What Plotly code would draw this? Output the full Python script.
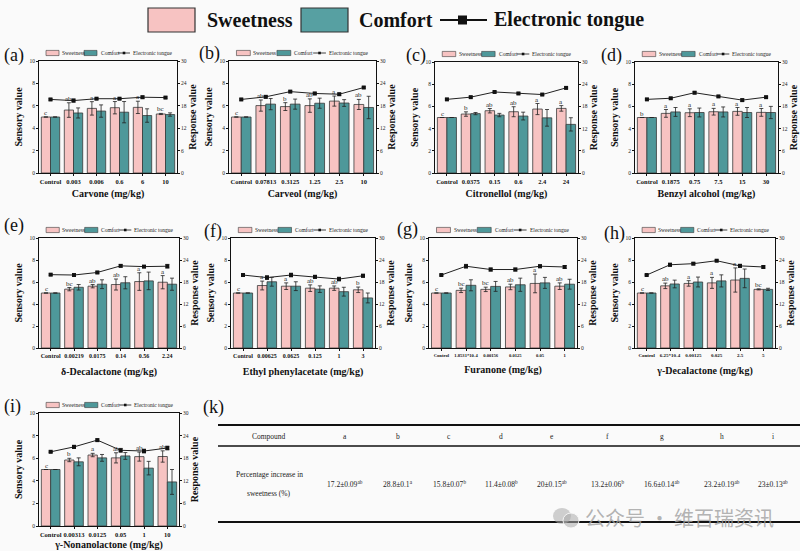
import plotly.graph_objects as go

W, H = 800, 551
SERIF = "Liberation Serif, Times New Roman, serif"

# ---------------- data ----------------
panel_ids = ["a", "b", "c", "d", "e", "f", "g", "h", "i"]
x_titles = ["Carvone (mg/kg)", "Carveol (mg/kg)", "Citronellol (mg/kg)", "Benzyl alcohol (mg/kg)",
            "δ-Decalactone (mg/kg)", "Ethyl phenylacetate (mg/kg)", "Furanone (mg/kg)",
            "γ-Decalactone (mg/kg)", "γ-Nonanolactone (mg/kg)"]
x_labels = [
    ["Control", "0.003", "0.006", "0.6", "6", "10"],
    ["Control", "0.07813", "0.3125", "1.25", "2.5", "10"],
    ["Control", "0.0375", "0.15", "0.6", "2.4", "24"],
    ["Control", "0.1875", "0.75", "7.5", "15", "30"],
    ["Control", "0.00219", "0.0175", "0.14", "0.56", "2.24"],
    ["Control", "0.00625", "0.0625", "0.125", "1", "3"],
    ["Control", "1.8531*10-4", "0.00156", "0.0125", "0.05", "1"],
    ["Control", "6.25*10-4", "0.00125", "0.025", "2.5", "5"],
    ["Control", "0.00313", "0.0125", "0.05", "1", "10"],
]
sweet = [
    [5.0, 5.62, 5.77, 5.83, 5.86, 5.27],
    [5.0, 6.02, 5.93, 6.02, 6.42, 6.12],
    [5.0, 5.31, 5.61, 5.52, 5.76, 5.82],
    [5.0, 5.37, 5.43, 5.52, 5.55, 5.46],
    [5.0, 5.35, 5.62, 5.77, 6.04, 5.98],
    [5.0, 5.68, 5.62, 5.44, 5.44, 5.29],
    [5.0, 5.24, 5.33, 5.55, 5.87, 5.62],
    [5.0, 5.65, 5.87, 5.92, 6.18, 5.33],
    [5.0, 5.84, 6.28, 6.03, 6.14, 6.15],
]
sweet_err = [
    [0, 0.65, 0.6, 0.55, 0.55, 0.05],
    [0, 0.5, 0.35, 0.6, 0.45, 0.45],
    [0, 0.2, 0.2, 0.45, 0.5, 0.25],
    [0, 0.35, 0.35, 0.3, 0.35, 0.35],
    [0, 0.15, 0.15, 0.5, 0.8, 0.6],
    [0, 0.4, 0.3, 0.3, 0.2, 0.25],
    [0, 0.2, 0.2, 0.25, 0.85, 0.3],
    [0, 0.25, 0.25, 0.5, 1.1, 0.05],
    [0, 0.15, 0.15, 0.45, 0.4, 0.5],
]
comfort = [
    [5.0, 5.36, 5.53, 5.43, 5.13, 5.22],
    [5.0, 6.15, 6.15, 6.23, 6.25, 5.85],
    [5.0, 5.35, 5.22, 5.13, 4.97, 4.38],
    [5.0, 5.5, 5.45, 5.5, 5.45, 5.45],
    [5.0, 5.52, 5.8, 5.93, 6.1, 5.8],
    [5.0, 6.02, 5.62, 5.35, 5.12, 4.55],
    [5.0, 5.7, 5.6, 5.75, 5.92, 5.8],
    [5.0, 5.82, 6.0, 6.1, 6.33, 5.33],
    [5.0, 5.68, 6.03, 6.2, 5.12, 3.9],
]
comfort_err = [
    [0, 0.45, 0.55, 0.95, 0.6, 0.15],
    [0, 0.5, 0.45, 0.45, 0.3, 1.0],
    [0, 0.1, 0.15, 0.35, 0.75, 0.6],
    [0, 0.4, 0.4, 0.45, 0.45, 0.55],
    [0, 0.25, 0.4, 0.55, 0.8, 0.55],
    [0, 0.4, 0.4, 0.3, 0.4, 0.45],
    [0, 0.5, 0.45, 0.6, 0.5, 0.45],
    [0, 0.35, 0.45, 0.55, 0.85, 0.1],
    [0, 0.35, 0.3, 0.3, 0.6, 1.1],
]
etongue = [
    [19.7, 19.4, 19.9, 19.9, 20.3, 20.2],
    [19.7, 20.4, 21.8, 21.3, 21.1, 22.9],
    [19.9, 20.5, 21.9, 21.5, 21.2, 23.0],
    [19.9, 20.2, 21.7, 20.7, 19.7, 20.5],
    [20.0, 19.9, 20.6, 22.4, 22.2, 22.3],
    [19.9, 19.2, 19.9, 19.4, 18.8, 19.7],
    [19.9, 22.3, 21.4, 21.4, 22.3, 22.1],
    [19.9, 22.7, 23.0, 23.8, 22.4, 22.1],
    [19.7, 21.0, 22.8, 20.1, 19.9, 20.7],
]
etongue_err = [
    [0.2, 0.4, 0.2, 0.2, 0.3, 0.2],
    [0.2, 0.3, 0.2, 0.3, 0.3, 0.2],
    [0.2, 0.2, 0.2, 0.2, 0.2, 0.2],
    [0.2, 0.2, 0.3, 0.2, 0.3, 0.2],
    [0.2, 0.2, 0.3, 0.3, 0.3, 0.5],
    [0.3, 0.5, 0.5, 0.4, 0.5, 0.4],
    [0.2, 0.5, 0.4, 0.4, 0.4, 0.4],
    [0.2, 0.4, 0.3, 0.2, 0.4, 0.3],
    [0.2, 0.4, 0.3, 0.5, 0.5, 0.5],
]
letters = [
    ["c", "ab", "a", "a", "a", "bc"],
    ["c", "ab", "b", "ab", "a", "ab"],
    ["c", "b", "ab", "ab", "a", "a"],
    ["b", "a", "a", "a", "a", "a"],
    ["c", "bc", "ab", "ab", "a", "a"],
    ["c", "a", "a", "ab", "ab", "b"],
    ["c", "bc", "bc", "ab", "a", "ab"],
    ["c", "ab", "a", "a", "a", "bc"],
    ["c", "b", "a", "ab", "ab", "ab"],
]
sensory_ticks = [0, 2, 4, 6, 8, 10]
response_ticks = [0, 6, 12, 18, 24, 30]

table_compounds = ["a", "b", "c", "d", "e", "f", "g", "h", "i"]
table_increase = ["17.2±0.09", "28.8±0.1", "15.8±0.07", "11.4±0.08", "20±0.15",
                  "13.2±0.06", "16.6±0.14", "23.2±0.19", "23±0.13"]
table_sig = ["ab", "a", "b", "b", "ab", "b", "ab", "ab", "ab"]

# ---------------- layout geometry (pixels) ----------------
boxes = [  # left, right, top, bottom
    (39, 177, 61, 173), (229, 376, 61, 173), (435, 578, 62, 173), (635, 778, 62, 173),
    (39, 179, 238, 348), (231, 375, 238, 348), (429, 577, 238, 348), (635, 775, 238, 348),
    (39, 179, 413, 526),
]
label_pos = [(2, 56), (197, 54), (404, 56), (599, 56), (2, 226), (202, 231), (395, 229), (602, 233), (2, 406)]
xtitle_standoff = [6, 6, 6, 6, 9, 9, 9, 9, 8]
xtick_sizes = [6.5, 6.5, 6.5, 6.5, 6, 6, 4.6, 5, 6.5]

PINK = "#F7C3C2"
TEAL = "#4E989A"
EDGE = "#3a3a3a"
BARGAP = 0.2


def px(x):
    return x / W


def py(y):
    return 1 - y / H


def paper_text(x, y, text, font, xanchor="center", yanchor="middle"):
    return dict(x=px(x), y=py(y), xref="paper", yref="paper", text=text, showarrow=False,
                xanchor=xanchor, yanchor=yanchor, font=font)


fig = go.Figure()
shapes = []
annotations = []
layout_axes = {}

for k in range(9):
    n = k + 1
    L, R, T, B = boxes[k]
    xa, ya, ya2 = f"x{n}", f"y{n}", f"y{n + 9}"
    cats = x_labels[k]
    pos = list(range(len(cats)))
    fig.add_trace(go.Bar(
        x=pos, y=sweet[k], xaxis=xa, yaxis=ya, marker=dict(color=PINK, line=dict(color=EDGE, width=0.8)),
        error_y=dict(type="data", array=sweet_err[k], color="#222", thickness=0.8, width=2),
        showlegend=False, name="Sweetness"))
    fig.add_trace(go.Bar(
        x=pos, y=comfort[k], xaxis=xa, yaxis=ya, marker=dict(color=TEAL, line=dict(color=EDGE, width=0.8)),
        error_y=dict(type="data", array=comfort_err[k], color="#222", thickness=0.8, width=2),
        showlegend=False, name="Comfort"))
    fig.add_trace(go.Scatter(
        x=pos, y=etongue[k], xaxis=xa, yaxis=ya2, mode="lines+markers",
        line=dict(color="#222", width=1), marker=dict(symbol="square", size=4, color="#111"),
        error_y=dict(type="data", array=etongue_err[k], color="#222", thickness=0.8, width=2),
        showlegend=False, name="Electronic tongue"))

    xname = "xaxis" if n == 1 else f"xaxis{n}"
    yname = "yaxis" if n == 1 else f"yaxis{n}"
    layout_axes[xname] = dict(
        domain=[px(L), px(R)], anchor=ya, range=[-0.5, len(cats) - 0.5],
        tickvals=pos, ticktext=cats, showline=True, mirror=True,
        linecolor="#111", linewidth=1, ticks="outside", ticklen=2, tickcolor="#111",
        tickfont=dict(family=SERIF, size=xtick_sizes[k], color="#111", weight="bold"),
        tickangle=0, showgrid=False, zeroline=False,
        title=dict(text=f"<b>{x_titles[k]}</b>", font=dict(family=SERIF, size=10, color="#111"),
                   standoff=xtitle_standoff[k]),
    )
    layout_axes[yname] = dict(
        domain=[py(B), py(T)], anchor=xa, range=[0, 10], tickvals=sensory_ticks,
        showline=True, linecolor="#111", linewidth=1, ticks="outside", ticklen=2, tickcolor="#111",
        tickfont=dict(family=SERIF, size=5.5, color="#222"), showgrid=False, zeroline=False,
        title=dict(text="<b>Sensory value</b>", font=dict(family=SERIF, size=10, color="#111"), standoff=4),
    )
    layout_axes[f"yaxis{n + 9}"] = dict(
        overlaying=ya, anchor=xa, side="right", range=[0, 30], tickvals=response_ticks,
        showline=True, linecolor="#111", linewidth=1, ticks="outside", ticklen=2, tickcolor="#111",
        tickfont=dict(family=SERIF, size=5.5, color="#222"), showgrid=False, zeroline=False,
        title=dict(text="<b>Response value</b>", font=dict(family=SERIF, size=10, color="#111"), standoff=3),
    )

    # significance letters above sweetness bars
    off = (1 - BARGAP) / 4
    for j in pos:
        annotations.append(dict(
            x=j - off, y=sweet[k][j] + sweet_err[k][j], xref=xa, yref=ya, text=letters[k][j],
            showarrow=False, xanchor="center", yanchor="bottom", yshift=-2,
            font=dict(family=SERIF, size=7, color="#222")))

    # panel label
    lxp, lyp = label_pos[k]
    annotations.append(paper_text(lxp, lyp, f"({panel_ids[k]})", dict(family=SERIF, size=18, color="#111"),
                                  xanchor="left"))

    # mini legend
    s = (R - L) / 138.0
    yc = T - 8
    hh = 2.6

    def lx(v):
        return px(L + v * s)
    shapes.append(dict(type="rect", xref="paper", yref="paper", x0=lx(7), x1=lx(20), y0=py(yc + hh), y1=py(yc - hh),
                       fillcolor=PINK, line=dict(color=EDGE, width=0.6)))
    shapes.append(dict(type="rect", xref="paper", yref="paper", x0=lx(45), x1=lx(58), y0=py(yc + hh), y1=py(yc - hh),
                       fillcolor=TEAL, line=dict(color=EDGE, width=0.6)))
    shapes.append(dict(type="line", xref="paper", yref="paper", x0=lx(79), x1=lx(91), y0=py(yc), y1=py(yc),
                       line=dict(color="#111", width=0.8)))
    shapes.append(dict(type="rect", xref="paper", yref="paper", x0=lx(85) - 1.3 / W, x1=lx(85) + 1.3 / W,
                       y0=py(yc + 1.3), y1=py(yc - 1.3), fillcolor="#111", line=dict(width=0)))
    for tx, txt in [(21, "Sweetness"), (59.5, "Comfort"), (92, "Electronic tongue")]:
        annotations.append(dict(x=lx(tx), y=py(yc), xref="paper", yref="paper", text=txt, showarrow=False,
                                xanchor="left", yanchor="middle", font=dict(family=SERIF, size=5.5, color="#222")))

# ---------------- main legend ----------------
shapes.append(dict(type="rect", xref="paper", yref="paper", x0=px(148), x1=px(195), y0=py(32), y1=py(8),
                   fillcolor=PINK, line=dict(color="#333", width=1.2)))
shapes.append(dict(type="rect", xref="paper", yref="paper", x0=px(301), x1=px(348), y0=py(32), y1=py(8),
                   fillcolor="#57A0A2", line=dict(color="#333", width=1.2)))
shapes.append(dict(type="line", xref="paper", yref="paper", x0=px(440), x1=px(487), y0=py(20), y1=py(20),
                   line=dict(color="#111", width=2)))
shapes.append(dict(type="rect", xref="paper", yref="paper", x0=px(458), x1=px(467), y0=py(24.5), y1=py(15.5),
                   fillcolor="#111", line=dict(width=0)))
for tx, txt in [(205, "Sweetness"), (357, "Comfort"), (492, "Electronic tongue")]:
    annotations.append(paper_text(tx, 20, f"<b>{txt}</b>", dict(family=SERIF, size=20, color="#111"),
                                  xanchor="left"))

# ---------------- table (k) ----------------
annotations.append(paper_text(201, 407, "(k)", dict(family=SERIF, size=18, color="#111"), xanchor="left"))
shapes.append(dict(type="line", xref="paper", yref="paper", x0=px(218), x1=px(800), y0=py(425), y1=py(425),
                   line=dict(color="#111", width=2)))
shapes.append(dict(type="line", xref="paper", yref="paper", x0=px(218), x1=px(800), y0=py(446), y1=py(446),
                   line=dict(color="#111", width=1.5)))
shapes.append(dict(type="line", xref="paper", yref="paper", x0=px(218), x1=px(800), y0=py(522), y1=py(522),
                   line=dict(color="#111", width=2)))
col_x = [345, 398, 449, 501, 552, 607, 662, 722, 773]
TF = dict(family=SERIF, size=7.5, color="#222")
annotations.append(paper_text(269, 436, "Compound", TF))
annotations.append(paper_text(269, 474, "Percentage increase in", TF))
annotations.append(paper_text(269, 493, "sweetness (%)", TF))
for cx, comp, val, sig in zip(col_x, table_compounds, table_increase, table_sig):
    annotations.append(paper_text(cx, 436, comp, TF))
    annotations.append(paper_text(cx, 484, f"{val}<sup>{sig}</sup>", TF))

# watermark
shapes.append(dict(type="circle", xref="paper", yref="paper", x0=px(553), x1=px(571), y0=py(524), y1=py(508),
                   fillcolor="rgba(170,170,170,0.55)", line=dict(width=0)))
shapes.append(dict(type="circle", xref="paper", yref="paper", x0=px(563), x1=px(579), y0=py(528), y1=py(513),
                   fillcolor="rgba(170,170,170,0.55)", line=dict(color="rgba(250,250,250,0.9)", width=1)))
annotations.append(paper_text(583, 517, "公众号 · 维百瑞资讯",
                              dict(family="Noto Sans CJK SC", size=20, color="rgba(160,160,160,0.8)"),
                              xanchor="left"))

fig.update_layout(
    width=W, height=H, margin=dict(l=0, r=0, t=0, b=0, autoexpand=False),
    paper_bgcolor="#fafafa", plot_bgcolor="#fafafa",
    barmode="group", bargap=BARGAP, bargroupgap=0,
    showlegend=False, shapes=shapes, annotations=annotations,
    **layout_axes,
)
fig.write_html("out.html")
